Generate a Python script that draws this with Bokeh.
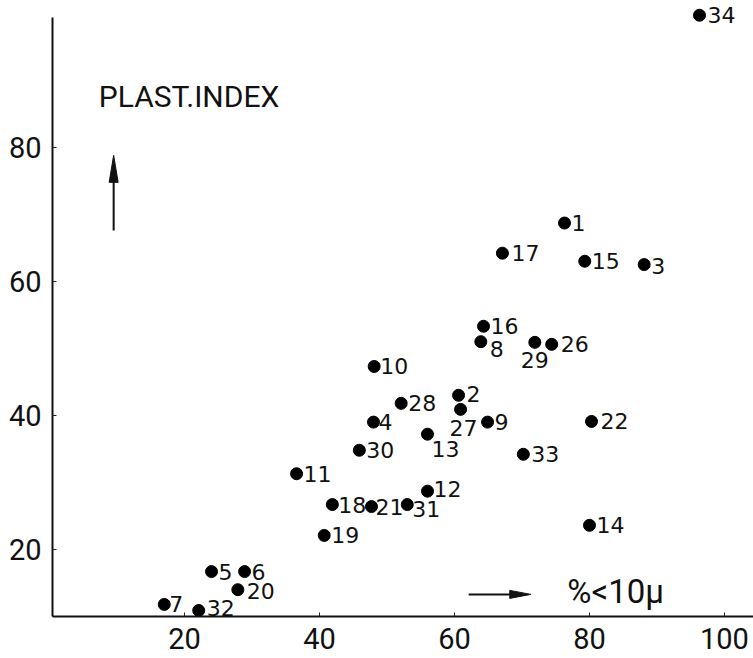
from bokeh.plotting import figure
from bokeh.models import ColumnDataSource, FixedTicker, Range1d, Label
from bokeh.core.properties import value
from bokeh.embed import file_html
from bokeh.resources import INLINE

# ---- data ----
sample_ids = ["1", "2", "3", "4", "5", "6", "7", "8", "9", "10", "11", "12", "13",
              "14", "15", "16", "17", "18", "19", "20", "21", "22", "26", "27",
              "28", "29", "30", "31", "32", "33", "34"]
clay_pct = [76.3, 60.6, 88.1, 48.0, 24.0, 28.9, 17.0, 63.9, 64.9, 48.1, 36.6, 56.0, 56.0,
            80.0, 79.3, 64.3, 67.1, 41.9, 40.7, 27.9, 47.7, 80.3, 74.4, 60.9,
            52.1, 71.9, 45.9, 53.0, 22.1, 70.2, 96.3]
plast_index = [68.7, 43.0, 62.5, 39.0, 16.7, 16.7, 11.8, 51.0, 39.0, 47.3, 31.3, 28.7, 37.2,
               23.6, 63.0, 53.3, 64.2, 26.7, 22.1, 14.0, 26.4, 39.1, 50.6, 40.9,
               41.8, 50.9, 34.8, 26.7, 10.9, 34.2, 99.7]
x_ticks = [20, 40, 60, 80, 100]
y_ticks = [20, 40, 60, 80]
y_title = "PLAST.INDEX"
x_title = "%<10\u03bc"

# label placement (screen px, relative to dot centre; y positive = down)
default_dx, default_dy = 7, 0
label_shift = {
    "8": (9, 7), "29": (-14, 18), "27": (-11, 19), "13": (4, 15), "31": (5, 4),
    "12": (6, -2), "7": (5, 0), "32": (8, -2), "20": (9, 1), "2": (8, -1),
    "22": (9, 0), "33": (8, 0), "17": (9, 0), "26": (9, 0), "34": (8, 0),
    "4": (5, 0), "21": (4, 0), "10": (6, 0), "18": (6, 0), "3": (7, 1),
}
dxs = [label_shift.get(s, (default_dx, default_dy))[0] for s in sample_ids]
dys = [label_shift.get(s, (default_dx, default_dy))[1] for s in sample_ids]

src = ColumnDataSource(dict(x=clay_pct, y=plast_index, t=sample_ids, dx=dxs, dy=dys))

p = figure(width=753, height=658, output_backend="svg", toolbar_location=None,
           x_range=Range1d(0.44, 104.3), y_range=Range1d(10.0, 101.9),
           min_border_left=52, min_border_right=0, min_border_top=0, min_border_bottom=42)
p.outline_line_color = None
p.grid.visible = False
p.background_fill_color = "white"
p.border_fill_color = "white"

for ax in (p.xaxis[0], p.yaxis[0]):
    ax.axis_line_width = 2
    ax.axis_line_color = "#111111"
    ax.major_tick_in = 4
    ax.major_tick_out = 0
    ax.major_tick_line_color = "#222222"
    ax.major_tick_line_width = 1
    ax.minor_tick_line_color = None
    ax.major_label_text_font = "Roboto"
    ax.major_label_text_font_size = "29px"
    ax.major_label_text_color = "#111111"
    ax.major_label_standoff = 11

p.xaxis[0].ticker = FixedTicker(ticks=x_ticks)
p.yaxis[0].ticker = FixedTicker(ticks=y_ticks)
p.yaxis[0].bounds = (10.0, 99.4)

p.scatter("x", "y", source=src, size=12, fill_color="black", line_color="black")
p.text("x", "y", text="t", source=src, x_offset="dx", y_offset="dy",
       text_font=value("DejaVu Sans"), text_font_size="22px",
       text_align="left", text_baseline="middle", text_color="#111111")

# axis titles
p.add_layout(Label(x=7.3, y=87.6, text=y_title, text_font="Roboto",
                   text_font_size="30px", text_baseline="middle", text_color="#111111"))
p.add_layout(Label(x=76.7, y=13.7, text=x_title, text_font="Roboto",
                   text_font_size="33px", text_baseline="middle", text_color="#111111"))

# arrows (shaft + narrow head)
px_x, px_y = 6.75, 6.7  # pixels per data unit
ax_x, ay0, ay1 = 9.5, 67.6, 78.8
p.line([ax_x, ax_x], [ay0, ay1 - 20 / px_y], line_width=2, color="#111111")
p.patch([ax_x, ax_x - 4.5 / px_x, ax_x + 4.5 / px_x],
        [ay1, ay1 - 27 / px_y, ay1 - 27 / px_y], color="#111111")

hy, hx0, hx1 = 13.3, 62.1, 71.3
p.line([hx0, hx1 - 15 / px_x], [hy, hy], line_width=2, color="#111111")
p.patch([hx1, hx1 - 21 / px_x, hx1 - 21 / px_x],
        [hy, hy + 4 / px_y, hy - 4 / px_y], color="#111111")

open("out.html", "w").write(file_html(p, INLINE))
